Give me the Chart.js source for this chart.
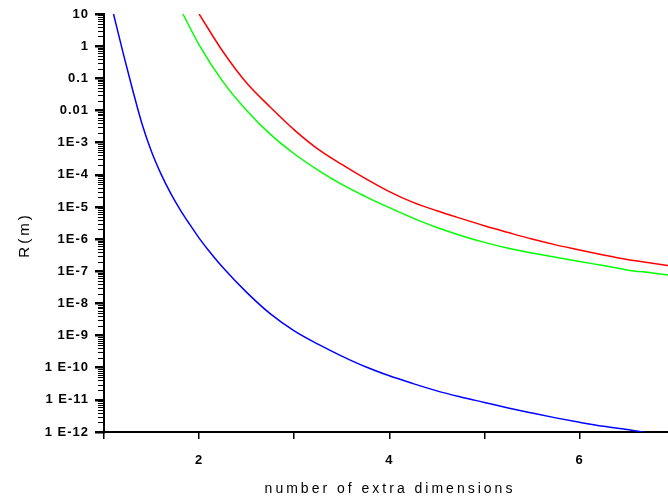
<!DOCTYPE html>
<html>
<head>
<meta charset="utf-8">
<script src="https://cdn.jsdelivr.net/npm/chart.js@4.4.1/dist/chart.umd.min.js"></script>
<style>
  html, body { margin: 0; padding: 0; background: #fff; }
  #wrap { width: 668px; height: 501px; }
</style>
</head>
<body>
<div id="wrap"><canvas id="chart" width="668" height="501"></canvas></div>
<script>
// values, R in metres
const xBlue = [1.1, 1.2, 1.3, 1.4, 1.5, 1.6, 1.7, 1.8, 1.9, 2.0, 2.1, 2.25, 2.5, 2.75, 3.0, 3.25, 3.5, 3.75, 4.0, 4.25, 4.5, 4.75, 5.0, 5.25, 5.5, 5.75, 6.0, 6.25, 6.5, 6.67]
const yBlue = [10, 0.63, 0.045, 3.8e-3, 5.2e-4, 1.05e-4, 2.7e-5, 8.3e-6, 2.9e-6, 1.07e-6, 4.4e-7, 1.3e-7, 2.2e-8, 4.7e-9, 1.4e-9, 5.4e-10, 2.3e-10, 1.07e-10, 5.6e-11, 3.2e-11, 1.9e-11, 1.23e-11, 8.3e-12, 5.6e-12, 3.9e-12, 2.75e-12, 2.0e-12, 1.5e-12, 1.2e-12, 1.0e-12]

const xRed = [2.0, 2.25, 2.5, 2.75, 3.0, 3.25, 3.5, 3.75, 4.0, 4.25, 4.5, 4.75, 5.0, 5.25, 5.5, 5.75, 6.0, 6.25, 6.5, 6.75, 6.93]
const yRed = [10, 0.68, 0.071, 0.0126, 2.5e-3, 6.3e-4, 2.1e-4, 7.6e-5, 3.0e-5, 1.38e-5, 7.6e-6, 4.4e-6, 2.6e-6, 1.6e-6, 1.0e-6, 6.6e-7, 4.6e-7, 3.2e-7, 2.3e-7, 1.8e-7, 1.5e-7]

const xGreen = [1.83, 2.0, 2.25, 2.5, 2.75, 3.0, 3.25, 3.5, 3.75, 4.0, 4.25, 4.5, 4.75, 5.0, 5.25, 5.5, 5.75, 6.0, 6.25, 6.5, 6.75, 6.93]
const yGreen = [10, 1.1, 0.079, 0.01, 1.8e-3, 4.5e-4, 1.4e-4, 5.0e-5, 2.1e-5, 9.5e-6, 4.5e-6, 2.3e-6, 1.3e-6, 7.9e-7, 5.2e-7, 3.7e-7, 2.7e-7, 2.0e-7, 1.5e-7, 1.1e-7, 8.9e-8, 7.6e-8]

const yTickValues = [10, 1, 0.1, 0.01, 1e-3, 1e-4, 1e-5, 1e-6, 1e-7, 1e-8, 1e-9, 1e-10, 1e-11, 1e-12]
const yTickLabels = ['10', '1', '0.1', '0.01', '1E-3', '1E-4', '1E-5', '1E-6', '1E-7', '1E-8', '1E-9', '1 E-10', '1 E-11', '1 E-12']
const xTickValues = [1, 2, 3, 4, 5, 6]
const xTickLabels = ['', '2', '', '4', '', '6']

const xTitle = 'number of extra dimensions'
const yTitle = 'R(m)'

const FONT = "'Liberation Sans', Arial, sans-serif"

const toPoints = (xs, ys) => xs.map((x, i) => ({ x: x, y: ys[i] }))

const line = (label, xs, ys, color) => ({
    label: label,
    data: toPoints(xs, ys),
    borderColor: color,
    borderWidth: 1.5,
    pointRadius: 0,
    fill: false,
    cubicInterpolationMode: 'monotone'
})

// letter spacing for the ticks, minor log ticks, and the two axis titles
const decorations = {
    id: 'decorations',
    beforeDraw(chart) {
        chart.ctx.letterSpacing = '1px'
    },
    afterDraw(chart) {
        const ctx = chart.ctx
        const y = chart.scales.y
        const x = chart.scales.x
        const left = chart.chartArea.left

        ctx.save()
        ctx.fillStyle = '#000'
        for (let e = -12; e < 1; e++) {
            for (let m = 2; m <= 9; m++) {
                const py = Math.round(y.getPixelForValue(m * Math.pow(10, e)))
                ctx.fillRect(left - 6, py, 6, 1)
            }
        }
        ctx.restore()

        ctx.save()
        ctx.fillStyle = '#000'
        ctx.textAlign = 'center'
        ctx.textBaseline = 'middle'
        ctx.letterSpacing = '3px'
        ctx.font = '14px ' + FONT
        ctx.fillText(xTitle, (x.left + 672) / 2 + 2, 489)
        ctx.translate(25, 237)
        ctx.rotate(-Math.PI / 2)
        ctx.font = '15px ' + FONT
        ctx.fillText(yTitle, 2, 0)
        ctx.restore()

        ctx.letterSpacing = '0px'
    }
}

new Chart(document.getElementById('chart'), {
    type: 'line',
    data: {
        datasets: [
            line('n blue', xBlue, yBlue, '#0000ff'),
            line('n red', xRed, yRed, '#ff0000'),
            line('n green', xGreen, yGreen, '#00ff00')
        ]
    },
    options: {
        responsive: false,
        animation: false,
        devicePixelRatio: 1,
        layout: { padding: { top: 14, right: 0, bottom: 0, left: 0 } },
        plugins: {
            legend: { display: false },
            tooltip: { enabled: false }
        },
        scales: {
            x: {
                type: 'linear',
                min: 1,
                max: 6.93,
                afterBuildTicks: scale => { scale.ticks = xTickValues.map(v => ({ value: v })) },
                afterFit: scale => { scale.height = 69 },
                border: { display: true, color: '#000', width: 2 },
                grid: { drawOnChartArea: false, drawTicks: true, tickLength: 7, color: '#000', lineWidth: 1.5 },
                ticks: {
                    autoSkip: false,
                    maxRotation: 0,
                    padding: 14,
                    color: '#000',
                    font: { family: FONT, size: 13, weight: 'bold' },
                    callback: (v, i) => xTickLabels[i]
                }
            },
            y: {
                type: 'logarithmic',
                min: 1e-12,
                max: 10,
                afterBuildTicks: scale => { scale.ticks = yTickValues.map(v => ({ value: v })) },
                afterFit: scale => { scale.width = 104 },
                border: { display: true, color: '#000', width: 2 },
                grid: { drawOnChartArea: false, drawTicks: true, tickLength: 9, color: '#000', lineWidth: 2.5 },
                ticks: {
                    autoSkip: false,
                    padding: 6,
                    color: '#000',
                    font: { family: FONT, size: 13, weight: 'bold' },
                    callback: (v, i) => yTickLabels[i]
                }
            }
        }
    },
    plugins: [decorations]
})
</script>
</body>
</html>
